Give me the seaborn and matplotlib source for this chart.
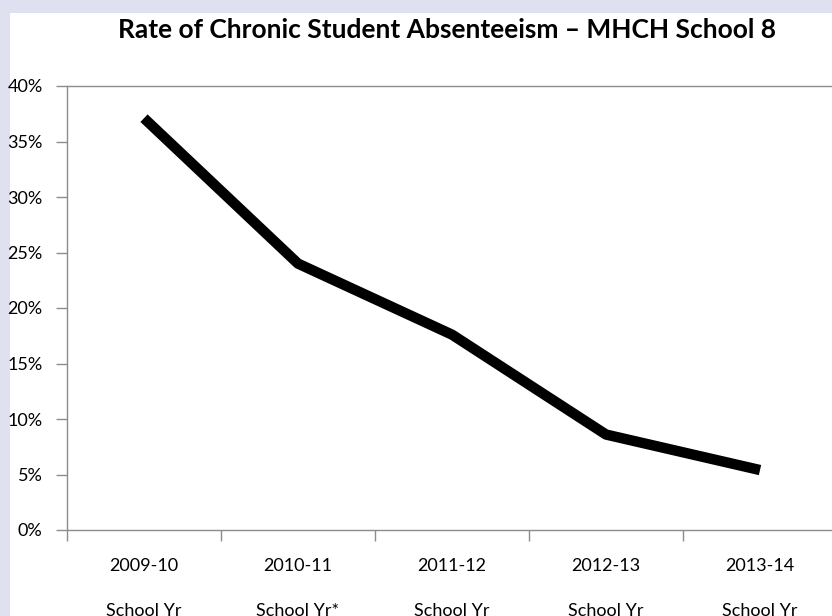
import matplotlib
matplotlib.use("Agg")
import matplotlib.pyplot as plt
import seaborn as sns
import pandas as pd
from matplotlib.patches import Rectangle
from matplotlib.ticker import FuncFormatter, FixedLocator

# data
years = ["2009-10", "2010-11", "2011-12", "2012-13", "2013-14"]
year_notes = ["School Yr", "School Yr*", "School Yr", "School Yr", "School Yr"]
absent_rate = [0.371, 0.240, 0.176, 0.086, 0.054]

df = pd.DataFrame({"year": years, "rate": absent_rate})

sns.set_style("white")
plt.rcParams["font.family"] = ["Lato", "DejaVu Sans"]
plt.rcParams["text.color"] = "black"

fig = plt.figure(figsize=(8.32, 6.16), dpi=100)
fig.patch.set_facecolor("#dfe1f0")
# white chart area (lavender frame on top and left)
fig.patches.append(Rectangle((10 / 832, 0), 1, (616 - 13) / 616,
                             transform=fig.transFigure, facecolor="white",
                             edgecolor="none", zorder=-10))

ax = fig.add_axes([67 / 832, 86 / 616, (837 - 67) / 832, (530 - 86) / 616])
ax.set_facecolor("none")

sns.lineplot(data=df, x="year", y="rate", color="black", linewidth=7.5,
             solid_capstyle="butt", ax=ax)

ax.set_ylim(0, 0.40)
ax.set_xlim(-0.5, 4.5)
ax.set_yticks([0, 0.05, 0.10, 0.15, 0.20, 0.25, 0.30, 0.35, 0.40])
ax.yaxis.set_major_formatter(FuncFormatter(lambda v, p: f"{v * 100:.0f}%"))

ax.set_xticks(range(len(years)))
ax.set_xticklabels([f"{y}\n\n{n}" for y, n in zip(years, year_notes)],
                   linespacing=1.5)
ax.xaxis.set_minor_locator(FixedLocator([i - 0.5 for i in range(len(years) + 1)]))
ax.tick_params(axis="x", which="major", length=0, pad=20, labelsize=13,
               labelcolor="black")
ax.tick_params(axis="x", which="minor", length=8, width=1, color="#8c8c8c",
               direction="out", bottom=True)
ax.tick_params(axis="y", length=8, width=1, color="#8c8c8c", direction="out",
               left=True, labelsize=13, pad=9.5, labelcolor="black")

for side in ["left", "bottom", "top"]:
    ax.spines[side].set_color("#8c8c8c")
    ax.spines[side].set_linewidth(1)
ax.spines["right"].set_visible(False)

ax.set_xlabel("")
ax.set_ylabel("")

fig.text(447 / 832, 1 - 30 / 616,
         "Rate of Chronic Student Absenteeism – MHCH School 8",
         ha="center", va="center", fontsize=19, fontweight="bold")

fig.savefig("out.png", dpi=100)
